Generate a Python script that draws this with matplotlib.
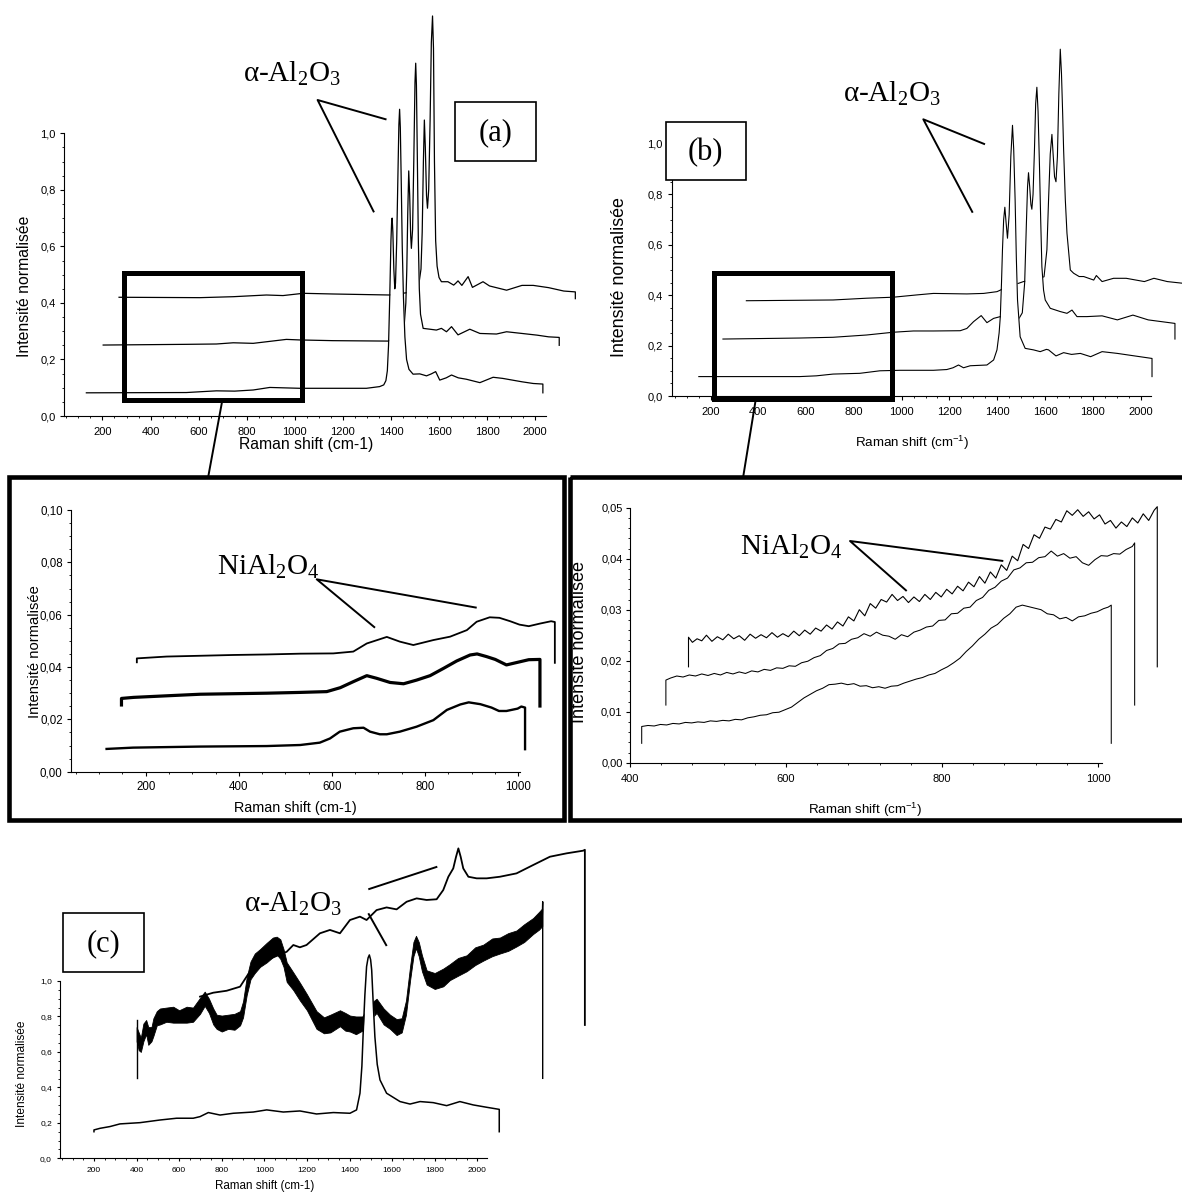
import matplotlib

matplotlib.use("Agg")

import matplotlib.pyplot as plt  # noqa: E402
from matplotlib.patches import Rectangle  # noqa: E402
from matplotlib.ticker import FuncFormatter, MultipleLocator  # noqa: E402

plt.rcParams["font.family"] = ["Liberation Sans", "DejaVu Sans"]
plt.rcParams["mathtext.default"] = "regular"

W, H = 1182, 1193
SERIF = ["Liberation Serif", "DejaVu Serif"]

# --------------------------------------------------------------------------- #
# Panel (a): three offset spectra (front -> back)
# --------------------------------------------------------------------------- #
A_BOT_X = [133, 549, 674, 750, 827, 896, 1021, 1298, 1353, 1370, 1379, 1385, 1390, 1395, 1400,
           1403, 1405, 1408, 1412, 1416, 1419, 1424, 1429, 1433, 1436, 1439, 1443, 1447, 1452,
           1458, 1465, 1475, 1492, 1520, 1548, 1568, 1586, 1603, 1630, 1652, 1680, 1714, 1770,
           1825, 1865, 1945, 1992, 2032, 2032]
A_BOT_Y = [0.082, 0.083, 0.089, 0.088, 0.092, 0.101, 0.098, 0.098, 0.104, 0.110, 0.125, 0.160,
           0.250, 0.420, 0.620, 0.690, 0.700, 0.650, 0.520, 0.450, 0.470, 0.620, 0.850, 1.030,
           1.085, 1.020, 0.820, 0.600, 0.420, 0.280, 0.200, 0.165, 0.148, 0.149, 0.142, 0.149,
           0.157, 0.127, 0.135, 0.145, 0.135, 0.130, 0.118, 0.137, 0.133, 0.121, 0.115, 0.113,
           0.082]
A_MID_X = [203, 549, 674, 744, 827, 965, 1021, 1159, 1388, 1440, 1455, 1462, 1466, 1470, 1474,
           1478, 1482, 1485, 1490, 1495, 1500, 1503, 1506, 1510, 1514, 1518, 1523, 1534, 1562,
           1589, 1610, 1631, 1652, 1679, 1728, 1770, 1839, 1881, 1945, 2008, 2056, 2100, 2100]
A_MID_Y = [0.251, 0.2535, 0.2547, 0.259, 0.257, 0.271, 0.269, 0.2665, 0.265, 0.28, 0.32, 0.40,
           0.52, 0.72, 0.867, 0.78, 0.64, 0.593, 0.66, 0.90, 1.18, 1.248, 1.17, 0.90, 0.62, 0.45,
           0.36, 0.31, 0.307, 0.304, 0.31, 0.298, 0.316, 0.287, 0.307, 0.292, 0.29, 0.298, 0.292,
           0.286, 0.28, 0.278, 0.25]
A_TOP_X = [269, 605, 744, 882, 951, 1035, 1159, 1395, 1500, 1515, 1525, 1530, 1535, 1539, 1543,
           1548, 1552, 1557, 1563, 1568, 1573, 1577, 1581, 1586, 1592, 1600, 1610, 1637, 1661,
           1670, 1679, 1695, 1721, 1739, 1783, 1810, 1881, 1945, 1992, 2056, 2119, 2167, 2167]
A_TOP_Y = [0.42, 0.4186, 0.422, 0.428, 0.426, 0.434, 0.4316, 0.428, 0.44, 0.46, 0.52, 0.65, 0.90,
           1.047, 0.95, 0.78, 0.735, 0.80, 1.05, 1.32, 1.415, 1.30, 0.90, 0.62, 0.53, 0.49, 0.475,
           0.475, 0.463, 0.47, 0.478, 0.462, 0.493, 0.455, 0.475, 0.46, 0.445, 0.462, 0.462,
           0.454, 0.442, 0.439, 0.415]

# --------------------------------------------------------------------------- #
# Panel (b)
# --------------------------------------------------------------------------- #
B_BOT_X = [151, 573, 643, 713, 825, 909, 993, 1133, 1189, 1215, 1238, 1259, 1287, 1357, 1385,
           1399, 1408, 1413, 1418, 1422, 1427, 1432, 1437, 1443, 1450, 1457, 1464, 1469, 1475,
           1480, 1485, 1496, 1517, 1552, 1580, 1606, 1615, 1646, 1678, 1711, 1748, 1791, 1839,
           1903, 1968, 2048, 2048]
B_BOT_Y = [0.077, 0.077, 0.080, 0.087, 0.090, 0.100, 0.102, 0.102, 0.105, 0.112, 0.123, 0.112,
           0.120, 0.123, 0.143, 0.183, 0.25, 0.315, 0.45, 0.58, 0.70, 0.749, 0.69, 0.626, 0.72,
           0.95, 1.074, 0.98, 0.778, 0.55, 0.381, 0.235, 0.189, 0.183, 0.176, 0.185, 0.183, 0.159,
           0.172, 0.165, 0.169, 0.156, 0.176, 0.169, 0.160, 0.149, 0.077]
B_MID_X = [252, 573, 713, 853, 965, 1049, 1133, 1245, 1273, 1301, 1333, 1357, 1385, 1413, 1450,
           1489, 1505, 1515, 1522, 1527, 1531, 1536, 1541, 1545, 1550, 1556, 1561, 1566, 1571,
           1577, 1582, 1587, 1594, 1601, 1622, 1664, 1692, 1713, 1734, 1775, 1839, 1903, 1968,
           2032, 2144, 2144]
B_MID_Y = [0.226, 0.230, 0.233, 0.242, 0.253, 0.258, 0.258, 0.259, 0.268, 0.295, 0.319, 0.291,
           0.308, 0.315, 0.30, 0.304, 0.33, 0.45, 0.68, 0.83, 0.886, 0.83, 0.76, 0.741, 0.80,
           0.98, 1.16, 1.225, 1.13, 0.91, 0.70, 0.513, 0.42, 0.381, 0.348, 0.335, 0.328, 0.341,
           0.315, 0.315, 0.318, 0.302, 0.321, 0.302, 0.288, 0.226]
B_TOP_X = [350, 713, 853, 965, 1063, 1133, 1273, 1343, 1399, 1413, 1450, 1489, 1510, 1560, 1596,
           1608, 1615, 1622, 1629, 1634, 1640, 1646, 1652, 1658, 1664, 1669, 1674, 1678, 1685,
           1692, 1706, 1720, 1743, 1762, 1804, 1815, 1839, 1887, 1940, 2016, 2056, 2112, 2180]
B_TOP_Y = [0.378, 0.381, 0.388, 0.392, 0.401, 0.407, 0.405, 0.407, 0.414, 0.42, 0.44, 0.447,
           0.454, 0.46, 0.473, 0.58, 0.78, 0.96, 1.038, 0.96, 0.87, 0.85, 0.95, 1.2, 1.376, 1.28,
           1.12, 0.976, 0.78, 0.646, 0.50, 0.487, 0.474, 0.474, 0.46, 0.478, 0.454, 0.467, 0.467,
           0.454, 0.467, 0.454, 0.447]

# --------------------------------------------------------------------------- #
# Zoomed inset of (a) (left) and of (b) (right)
# --------------------------------------------------------------------------- #
LI_BOT_X = [116, 173, 245, 317, 388, 460, 532, 574, 596, 617, 646, 668, 682, 703, 718, 746, 782,
            818, 847, 876, 894, 919, 943, 959, 975, 999, 1007, 1015, 1015]
LI_BOT_Y = [0.0087, 0.0092, 0.0094, 0.0096, 0.0097, 0.0098, 0.0102, 0.0111, 0.0127, 0.0153,
            0.0166, 0.0168, 0.0153, 0.0143, 0.0143, 0.0153, 0.0172, 0.0197, 0.0236, 0.0257,
            0.0265, 0.0258, 0.0245, 0.0232, 0.0232, 0.0241, 0.0249, 0.0245, 0.0086]
LI_MID_X = [148, 148, 174, 245, 317, 388, 460, 532, 589, 618, 646, 675, 696, 725, 754, 782, 811,
            840, 868, 897, 912, 932, 951, 975, 999, 1023, 1047, 1047]
LI_MID_Y = [0.0255, 0.0280, 0.0284, 0.0290, 0.0296, 0.0298, 0.0300, 0.0303, 0.0306, 0.0321,
            0.0344, 0.0367, 0.0357, 0.0341, 0.0336, 0.0350, 0.0367, 0.0395, 0.0423, 0.0446,
            0.0450, 0.0440, 0.0429, 0.0408, 0.0418, 0.0428, 0.0429, 0.0251]
LI_TOP_X = [181, 181, 245, 317, 388, 460, 532, 603, 646, 675, 718, 746, 775, 818, 854, 890, 911,
            939, 960, 983, 1003, 1023, 1047, 1071, 1079, 1079]
LI_TOP_Y = [0.0418, 0.0433, 0.0440, 0.0443, 0.0446, 0.0448, 0.0451, 0.0452, 0.0459, 0.0490,
            0.0515, 0.0497, 0.0484, 0.0503, 0.0516, 0.0541, 0.0573, 0.0590, 0.0588, 0.0575,
            0.0562, 0.0556, 0.0566, 0.0575, 0.0572, 0.0416]

RI_BOT_X = [415, 415, 423, 431, 439, 447, 455, 463, 471, 479, 487, 495, 503, 511, 519, 527, 535,
            543, 551, 559, 567, 575, 583, 591, 599, 607, 615, 623, 631, 639, 647, 655, 663, 671,
            679, 687, 695, 703, 711, 719, 727, 735, 743, 751, 759, 767, 775, 783, 791, 799, 807,
            815, 823, 831, 839, 847, 855, 863, 871, 879, 887, 895, 903, 911, 919, 927, 935, 943,
            951, 959, 967, 975, 983, 991, 999, 1007, 1013, 1017, 1017]
RI_BOT_Y = [0.0038, 0.0071, 0.0073, 0.0072, 0.0075, 0.0074, 0.0077, 0.0076, 0.0079, 0.0078,
            0.0080, 0.0079, 0.0082, 0.0081, 0.0083, 0.0082, 0.0085, 0.0084, 0.0088, 0.0090,
            0.0093, 0.0094, 0.0098, 0.0099, 0.0104, 0.0109, 0.0118, 0.0127, 0.0134, 0.0141,
            0.0146, 0.0153, 0.0154, 0.0156, 0.0153, 0.0155, 0.0150, 0.0151, 0.0147, 0.0149,
            0.0146, 0.0150, 0.0151, 0.0156, 0.0160, 0.0164, 0.0167, 0.0172, 0.0175, 0.0182,
            0.0188, 0.0196, 0.0205, 0.0218, 0.0229, 0.0242, 0.0252, 0.0264, 0.0271, 0.0283,
            0.0292, 0.0305, 0.0309, 0.0306, 0.0303, 0.0300, 0.0292, 0.0290, 0.0282, 0.0285,
            0.0278, 0.0286, 0.0288, 0.0293, 0.0296, 0.0302, 0.0305, 0.0309, 0.0038]
RI_MID_X = [446, 446, 452, 460, 468, 476, 484, 492, 500, 508, 516, 524, 532, 540, 548, 556, 564,
            572, 580, 588, 596, 604, 612, 620, 628, 636, 644, 652, 660, 668, 676, 684, 692, 700,
            708, 716, 724, 732, 740, 748, 756, 764, 772, 780, 788, 796, 804, 812, 820, 828, 836,
            844, 852, 860, 868, 876, 884, 892, 900, 908, 916, 924, 932, 940, 948, 956, 964, 972,
            980, 988, 996, 1004, 1012, 1020, 1028, 1036, 1044, 1047, 1047]
RI_MID_Y = [0.0113, 0.0162, 0.0166, 0.0170, 0.0168, 0.0172, 0.0170, 0.0174, 0.0171, 0.0175,
            0.0172, 0.0177, 0.0174, 0.0178, 0.0175, 0.0180, 0.0178, 0.0183, 0.0181, 0.0186,
            0.0185, 0.0190, 0.0189, 0.0196, 0.0199, 0.0206, 0.0210, 0.0220, 0.0224, 0.0233,
            0.0234, 0.0242, 0.0245, 0.0253, 0.0248, 0.0256, 0.0250, 0.0248, 0.0242, 0.0251,
            0.0247, 0.0256, 0.0260, 0.0266, 0.0268, 0.0279, 0.0280, 0.0292, 0.0293, 0.0303,
            0.0305, 0.0318, 0.0324, 0.0338, 0.0344, 0.0356, 0.0362, 0.0378, 0.0382, 0.0392,
            0.0393, 0.0402, 0.0404, 0.0415, 0.0405, 0.0410, 0.0401, 0.0404, 0.0392, 0.0387,
            0.0398, 0.0406, 0.0405, 0.0410, 0.0409, 0.0418, 0.0424, 0.0431, 0.0113]
RI_TOP_X = [475, 475, 480, 486, 492, 498, 505, 512, 519, 526, 533, 540, 547, 554, 561, 568, 575,
            582, 589, 596, 603, 610, 617, 624, 631, 638, 645, 652, 659, 666, 673, 680, 687, 694,
            701, 708, 715, 722, 729, 736, 743, 750, 757, 764, 771, 778, 785, 792, 799, 806, 813,
            820, 827, 834, 841, 848, 855, 862, 869, 876, 883, 890, 897, 904, 911, 918, 925, 932,
            939, 946, 953, 960, 967, 974, 981, 988, 995, 1002, 1009, 1016, 1023, 1030, 1037,
            1044, 1051, 1058, 1065, 1072, 1076, 1076]
RI_TOP_Y = [0.0188, 0.0246, 0.0236, 0.0243, 0.0239, 0.0250, 0.0238, 0.0247, 0.0241, 0.0252,
            0.0243, 0.0249, 0.0240, 0.0252, 0.0244, 0.0251, 0.0245, 0.0255, 0.0246, 0.0253,
            0.0247, 0.0258, 0.0249, 0.0260, 0.0252, 0.0264, 0.0258, 0.0270, 0.0262, 0.0276,
            0.0268, 0.0286, 0.0278, 0.0300, 0.0288, 0.0312, 0.0303, 0.0320, 0.0315, 0.0330,
            0.0318, 0.0326, 0.0314, 0.0325, 0.0316, 0.0330, 0.0320, 0.0334, 0.0325, 0.0340,
            0.0331, 0.0346, 0.0337, 0.0354, 0.0345, 0.0365, 0.0352, 0.0374, 0.0362, 0.0388,
            0.0377, 0.0405, 0.0396, 0.0428, 0.0420, 0.0447, 0.0440, 0.0462, 0.0458, 0.0477,
            0.0472, 0.0494, 0.0485, 0.0496, 0.0483, 0.0492, 0.0478, 0.0486, 0.0468, 0.0475,
            0.0460, 0.0472, 0.0463, 0.0480, 0.0470, 0.0488, 0.0475, 0.0495, 0.0502, 0.0188]

# --------------------------------------------------------------------------- #
# Panel (c)
# --------------------------------------------------------------------------- #
C_BOT_X = [200, 200, 228, 275, 322, 416, 510, 588, 666, 698, 737, 792, 854, 948, 1011, 1089,
           1167, 1245, 1324, 1402, 1433, 1449, 1458, 1464, 1472, 1480, 1487, 1493, 1499, 1504,
           1511, 1519, 1530, 1543, 1574, 1637, 1684, 1731, 1793, 1856, 1918, 1981, 2043, 2103,
           2103]
C_BOT_Y = [0.150, 0.160, 0.169, 0.179, 0.194, 0.201, 0.216, 0.226, 0.226, 0.235, 0.258, 0.244,
           0.254, 0.261, 0.273, 0.261, 0.267, 0.250, 0.258, 0.254, 0.273, 0.367, 0.52, 0.705,
           0.92, 1.081, 1.13, 1.147, 1.12, 1.062, 0.88, 0.686, 0.53, 0.442, 0.367, 0.320, 0.306,
           0.320, 0.314, 0.297, 0.320, 0.301, 0.288, 0.276, 0.150]
C_MID_X = [400, 410, 420, 432, 445, 455, 470, 479, 495, 510, 540, 572, 600, 635, 665, 698, 720,
           740, 760, 776, 800, 830, 860, 886, 900, 917, 935, 955, 980, 1011, 1040, 1058, 1075,
           1090, 1105, 1135, 1167, 1200, 1245, 1280, 1310, 1355, 1380, 1402, 1430, 1460, 1500,
           1527, 1560, 1590, 1621, 1645, 1665, 1685, 1700, 1712, 1725, 1740, 1762, 1800, 1840,
           1871, 1910, 1950, 1990, 2028, 2070, 2106, 2145, 2184, 2220, 2262, 2290, 2305]
C_MID_Y = [0.70, 0.66, 0.64, 0.71, 0.74, 0.69, 0.70, 0.74, 0.79, 0.80, 0.81, 0.81, 0.80, 0.81,
           0.81, 0.86, 0.90, 0.86, 0.80, 0.77, 0.76, 0.77, 0.77, 0.79, 0.84, 0.97, 1.06, 1.10,
           1.13, 1.16, 1.19, 1.20, 1.18, 1.13, 1.05, 1.00, 0.94, 0.88, 0.78, 0.75, 0.76, 0.79,
           0.77, 0.76, 0.75, 0.76, 0.83, 0.86, 0.80, 0.77, 0.74, 0.75, 0.85, 1.05, 1.18, 1.22,
           1.18, 1.10, 1.02, 1.00, 1.02, 1.05, 1.08, 1.10, 1.14, 1.16, 1.19, 1.20, 1.22, 1.24,
           1.27, 1.31, 1.34, 1.36]
C_MID_SPREAD = [0.04, 0.05, 0.04, 0.05, 0.04, 0.05, 0.04, 0.05, 0.04, 0.045,
                0.04, 0.045, 0.035, 0.045, 0.04, 0.045, 0.04, 0.04, 0.045, 0.04,
                0.045, 0.04, 0.045, 0.04, 0.045, 0.05, 0.05, 0.055, 0.05, 0.055,
                0.055, 0.05, 0.055, 0.05, 0.055, 0.05, 0.05, 0.045, 0.05, 0.045,
                0.05, 0.045, 0.05, 0.045, 0.05, 0.04, 0.045, 0.04, 0.045, 0.04,
                0.045, 0.04, 0.04, 0.04, 0.04, 0.035, 0.04, 0.045, 0.04, 0.045,
                0.05, 0.045, 0.05, 0.045, 0.05, 0.045, 0.05, 0.045, 0.05, 0.045,
                0.05, 0.045, 0.05, 0.05]
C_MID_START = ([400, 400], [0.451, 0.78])
C_MID_END = ([2305, 2307, 2307], [1.36, 1.447, 0.451])
C_TOP_X = [698, 760, 823, 886, 925, 1011, 1105, 1136, 1167, 1198, 1261, 1308, 1355, 1402, 1449,
           1480, 1527, 1574, 1621, 1668, 1715, 1762, 1809, 1840, 1864, 1887, 1900, 1911, 1922,
           1934, 1958, 1997, 2044, 2106, 2184, 2262, 2341, 2419, 2497, 2505, 2505]
C_TOP_Y = [0.912, 0.934, 0.945, 0.968, 1.04, 1.118, 1.165, 1.203, 1.19, 1.203, 1.269, 1.288,
           1.269, 1.344, 1.363, 1.344, 1.40, 1.415, 1.404, 1.447, 1.466, 1.457, 1.461, 1.513,
           1.588, 1.635, 1.70, 1.748, 1.70, 1.635, 1.588, 1.579, 1.579, 1.588, 1.607, 1.654,
           1.701, 1.72, 1.735, 1.74, 0.752]

AXIS_LABEL = "Intensité normalisée"


def fig_axes(fig, left, top, width, height):
    """Axes placed by pixel box (left, top, width, height)."""
    return fig.add_axes([left / W, 1 - (top + height) / H, width / W, height / H])


def style(ax, xlim, ylim, xstep, ystep, ydec, tick_pt, xpad, ypad, ticklen=3.0):
    ax.set_xlim(*xlim)
    ax.set_ylim(*ylim)
    ax.patch.set_alpha(0)
    for s in ("top", "right"):
        ax.spines[s].set_visible(False)
    for s in ("left", "bottom"):
        ax.spines[s].set_linewidth(0.8)
    ax.xaxis.set_major_locator(MultipleLocator(xstep[0]))
    ax.xaxis.set_minor_locator(MultipleLocator(xstep[1]))
    ax.yaxis.set_major_locator(MultipleLocator(ystep[0]))
    ax.yaxis.set_minor_locator(MultipleLocator(ystep[1]))
    ax.xaxis.set_major_formatter(FuncFormatter(lambda v, _: f"{v:.0f}"))
    ax.yaxis.set_major_formatter(
        FuncFormatter(lambda v, _: f"{v:.{ydec}f}".replace(".", ",")))
    ax.tick_params(which="major", direction="out", length=ticklen, width=0.8,
                   labelsize=tick_pt)
    ax.tick_params(which="minor", direction="out", length=ticklen * 0.6, width=0.6)
    ax.tick_params(axis="x", pad=xpad)
    ax.tick_params(axis="y", pad=ypad)


def waterfall(ax, traces, lw):
    """Back-to-front offset traces with hidden-line removal (white fill below)."""
    for z, (xs, ys) in enumerate(traces):
        base = min(ys)
        ax.fill_between(xs, ys, base, color="white", lw=0, zorder=1 + z * 0.1,
                        clip_on=False)
        ax.plot(xs, ys, color="black", lw=lw, zorder=1.05 + z * 0.1, clip_on=False)


fig = plt.figure(figsize=(W / 100, H / 100), dpi=100, facecolor="white")

# ---- (a)
ax_a = fig_axes(fig, 64, 133.3, 482, 282.7)
style(ax_a, (40, 2045), (0, 1.0), (200, 50), (0.2, 0.05), 1, 8, 5.0, 2.9)
waterfall(ax_a, [(A_TOP_X, A_TOP_Y), (A_MID_X, A_MID_Y), (A_BOT_X, A_BOT_Y)], 0.9)

# ---- (b)
ax_b = fig_axes(fig, 672.3, 123.8, 479, 272.2)
style(ax_b, (40, 2045), (0, 1.08), (200, 50), (0.2, 0.05), 1, 8, 5.0, 3.9)
waterfall(ax_b, [(B_TOP_X, B_TOP_Y), (B_MID_X, B_MID_Y), (B_BOT_X, B_BOT_Y)], 0.8)

# ---- left inset
ax_li = fig_axes(fig, 71.2, 510, 449.2, 261.7)
style(ax_li, (40, 1005), (0, 0.10), (200, 50), (0.02, 0.005), 2, 8.3, 3.6, 3.1)
for xs, ys, lw in [(LI_TOP_X, LI_TOP_Y, 1.3), (LI_MID_X, LI_MID_Y, 2.3),
                   (LI_BOT_X, LI_BOT_Y, 1.7)]:
    ax_li.plot(xs, ys, color="black", lw=lw, clip_on=False)

# ---- right inset
ax_ri = fig_axes(fig, 630, 507.7, 471.9, 255)
style(ax_ri, (400, 1005), (0, 0.05), (200, 40), (0.01, 0.002), 2, 8, 5.3, 2.4)
for xs, ys, lw in [(RI_TOP_X, RI_TOP_Y, 0.8), (RI_MID_X, RI_MID_Y, 0.75),
                   (RI_BOT_X, RI_BOT_Y, 0.75)]:
    ax_ri.plot(xs, ys, color="black", lw=lw, clip_on=False)

# ---- (c)
ax_c = fig_axes(fig, 59.9, 981, 427, 177.3)
style(ax_c, (40, 2045), (0, 1.0), (200, 50), (0.2, 0.05), 1, 6, 4.0, 3.3, ticklen=2.4)
ax_c.plot(C_TOP_X, C_TOP_Y, color="black", lw=1.3, zorder=1, clip_on=False)
lo = [y - s for y, s in zip(C_MID_Y, C_MID_SPREAD)]
hi = [y + s for y, s in zip(C_MID_Y, C_MID_SPREAD)]
ax_c.fill_between(C_MID_X, lo, hi, color="black", lw=0.6, zorder=1.2, clip_on=False)
ax_c.plot(*C_MID_START, color="black", lw=1.0, zorder=1.2, clip_on=False)
ax_c.plot(*C_MID_END, color="black", lw=1.0, zorder=1.2, clip_on=False)
ax_c.fill_between(C_BOT_X, C_BOT_Y, min(C_BOT_Y), color="white", lw=0, zorder=1.4,
                  clip_on=False)
ax_c.plot(C_BOT_X, C_BOT_Y, color="black", lw=1.1, zorder=1.5, clip_on=False)

# --------------------------------------------------------------------------- #
# Overlay in pixel coordinates: frames, annotations, labels
# --------------------------------------------------------------------------- #
ov = fig.add_axes([0, 0, 1, 1])
ov.set_xlim(0, W)
ov.set_ylim(H, 0)
ov.axis("off")
ov.set_zorder(10)


def rect(x0, y0, x1, y1, lw, fill=False):
    ov.add_patch(Rectangle((x0, y0), x1 - x0, y1 - y0, fill=fill, facecolor="white",
                           edgecolor="black", lw=lw, zorder=5))


def seg(pts, lw):
    ov.plot([p[0] for p in pts], [p[1] for p in pts], color="black", lw=lw,
            solid_capstyle="butt", zorder=6)


# zoom boxes and connectors
rect(124, 272.5, 302, 400, 3.6)
rect(714.2, 272.5, 891.8, 399.2, 3.6)
seg([(222, 402), (208, 478)], 1.4)
seg([(755.5, 401), (743, 478)], 1.4)
# inset frames
rect(9, 476.5, 564, 820, 3.3)
rect(569.5, 476.5, 1200, 820, 3.3)

# panel tags
for (x0, y0, x1, y1), tag in [((455.4, 102.3, 535.8, 160.7), "(a)"),
                              ((665.7, 122.3, 746, 180.3), "(b)"),
                              ((63.3, 913.3, 144.3, 971.7), "(c)")]:
    rect(x0, y0, x1, y1, 1.2, fill=True)
    ov.text((x0 + x1) / 2, (y0 + y1) / 2 + 1, tag, fontsize=22, family=SERIF,
            ha="center", va="center", zorder=7)

# phase annotations
ALPHA = "α-Al$_2$O$_3$"
SPINEL = "NiAl$_2$O$_4$"
for x, y, s in [(292, 82, ALPHA), (892, 101.7, ALPHA), (293, 911.7, ALPHA),
                (268, 575, SPINEL), (791.7, 555, SPINEL)]:
    ov.text(x, y, s, fontsize=21, family=SERIF, ha="center", va="baseline", zorder=7)
seg([(386.5, 119.5), (317.6, 100), (374, 212.3)], 1.4)
seg([(985, 144.3), (923.3, 119.3), (972.7, 212.7)], 1.4)
seg([(368.3, 889.3), (437.3, 866.7)], 1.4)
seg([(368.3, 913.3), (386.7, 946)], 1.4)
seg([(476.7, 607.7), (316.7, 579.3), (375, 627.7)], 1.4)
seg([(1003.3, 561), (850, 541), (906.7, 591)], 1.4)

# axis titles
for x, y, size in [(25, 286.7, 11.3), (619.3, 276.7, 12.9), (35, 651.7, 10.6),
                   (580, 641.7, 13.1), (21.7, 1073.3, 8.6)]:
    ov.text(x, y, AXIS_LABEL, fontsize=size, rotation=90, ha="center", va="center",
            zorder=7)
for x, y, s, size in [(306, 445, "Raman shift (cm-1)", 11.3),
                      (911.7, 443.3, "Raman shift (cm$^{-1}$)", 9.6),
                      (295, 808.3, "Raman shift (cm-1)", 10.4),
                      (865, 810, "Raman shift (cm$^{-1}$)", 9.6),
                      (265, 1185.5, "Raman shift (cm-1)", 8.4)]:
    ov.text(x, y, s, fontsize=size, ha="center", va="center", zorder=7)

fig.savefig("out.png", dpi=100, facecolor="white")
